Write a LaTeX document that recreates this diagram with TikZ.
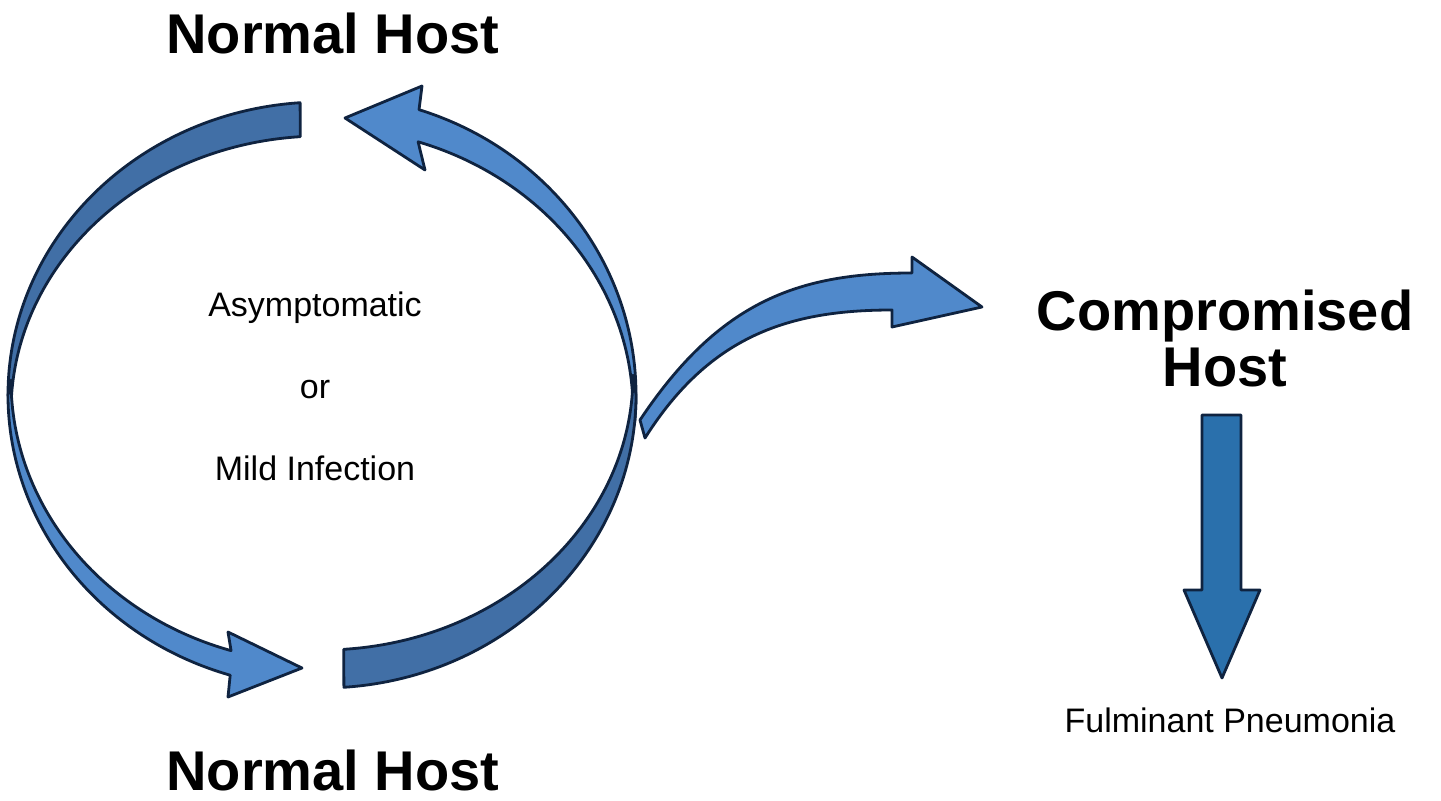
\documentclass[tikz,border=0pt]{standalone}
\usepackage{fontspec}
\setmainfont{Liberation Sans}
\usetikzlibrary{calc}
\definecolor{arrlight}{HTML}{5089CB}
\definecolor{arrdark}{HTML}{416FA6}
\definecolor{arrline}{HTML}{0F2340}
\definecolor{downblue}{HTML}{2A70AC}
\tikzset{
  bigarrow/.style={draw=arrline, line width=1.4pt, line join=round},
  hostlabel/.style={font=\fontsize{28}{32}\selectfont\bfseries, align=center},
  smalllabel/.style={font=\fontsize{17}{20}\selectfont}
}
\begin{document}
\begin{tikzpicture}[x=0.5pt, y=0.5pt]
  \useasboundingbox (0,0) rectangle (1441,800);
  \coordinate (c) at (322,405);
  \coordinate (ctl) at (322,388);
  \coordinate (cbl) at (322,420);
  \coordinate (ctr) at (322,390);
  \coordinate (cbr) at (322,425);

  % upper left arc
  \fill[arrdark] ($(c)+(94:314 and 293)$) arc[start angle=94, end angle=180, x radius=314, y radius=293]
    -- ($(ctl)+(180:311 and 276)$) arc[start angle=180, end angle=94, x radius=311, y radius=276] -- cycle;
  \draw[bigarrow] ($(c)+(94:314 and 293)$) arc[start angle=94, end angle=180, x radius=314, y radius=293]
    -- ($(ctl)+(180:311 and 276)$) arc[start angle=180, end angle=94, x radius=311, y radius=276] -- cycle;

  % lower left arc with head
  \draw[bigarrow, fill=arrlight] ($(c)+(180:314 and 293)$) arc[start angle=180, end angle=253, x radius=314, y radius=293]
    -- (228,103) -- (302,132) -- (228,168)
    -- ($(cbl)+(253:311 and 283)$) arc[start angle=253, end angle=180, x radius=311, y radius=283] -- cycle;

  % upper right arc with head
  \draw[bigarrow, fill=arrlight] ($(c)+(-5:314 and 300)$) arc[start angle=-5, end angle=72, x radius=314, y radius=300]
    -- (422,714) -- (345,682) -- (425,630)
    -- ($(ctr)+(72:311 and 282)$) arc[start angle=72, end angle=-5, x radius=311, y radius=282] -- cycle;

  % lower right arc
  \draw[bigarrow, fill=arrdark] ($(cbr)+(274:311 and 275)$) arc[start angle=274, end angle=360, x radius=311, y radius=275]
    -- ($(c)+(0:314 and 293)$) arc[start angle=360, end angle=274, x radius=314, y radius=293] -- cycle;

  % branch to compromised host
  \draw[bigarrow, fill=arrlight] (640,380) .. controls (720,500) and (800,527) .. (912,527)
    -- (912,543) -- (982,493) -- (892,473) -- (892,490)
    .. controls (790,490) and (710,465) .. (645,362) -- cycle;

  % down arrow
  \draw[bigarrow, fill=downblue] (1202,385) -- (1241,385) -- (1241,210) -- (1260,210)
    -- (1222,122) -- (1184,210) -- (1202,210) -- cycle;

  \node[hostlabel] (top) at (333,767) {Normal Host};
  \node[hostlabel] (bottom) at (333,30) {Normal Host};
  \node[hostlabel] (comp) at (1225,462) {Compromised\\[-4pt]Host};
  \node[smalllabel] (asym) at (315,492) {Asymptomatic};
  \node[smalllabel] (or) at (315,410) {or};
  \node[smalllabel] (mild) at (315,332) {Mild Infection};
  \node[smalllabel] (pneu) at (1230,80) {Fulminant Pneumonia};
\end{tikzpicture}
\end{document}
